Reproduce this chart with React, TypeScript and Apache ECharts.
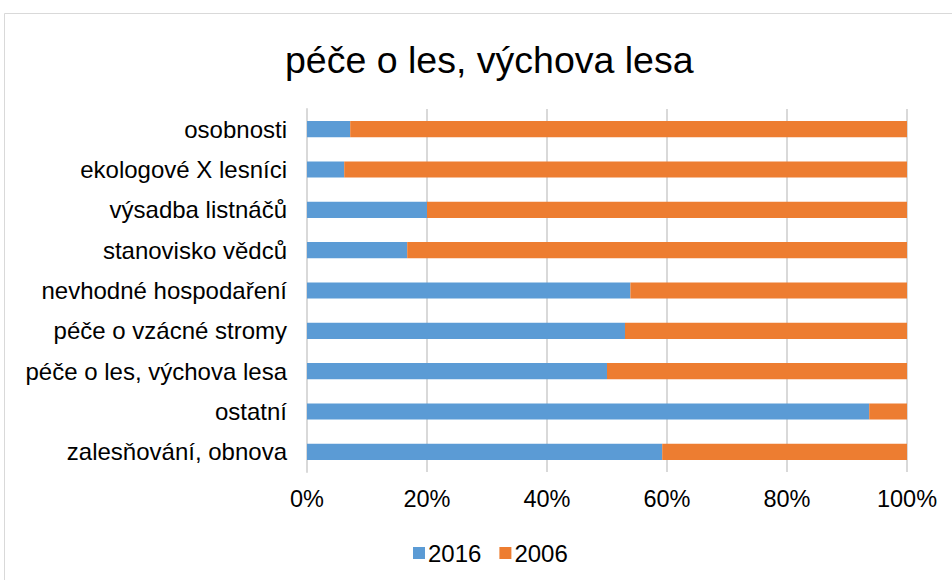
import React, { useEffect, useRef } from "react";
import * as echarts from "echarts";

const categories = [
  "zalesňování, obnova",
  "ostatní",
  "péče o les, výchova lesa",
  "péče o vzácné stromy",
  "nevhodné hospodaření",
  "stanovisko vědců",
  "výsadba listnáčů",
  "ekologové X lesníci",
  "osobnosti",
];
const values2016 = [59.2, 93.7, 50.0, 53.0, 53.9, 16.7, 20.0, 6.2, 7.2];
const values2006 = [40.8, 6.3, 50.0, 47.0, 46.1, 83.3, 80.0, 93.8, 92.8];
const seriesNames = ["2016", "2006"];
const FONT = "'Liberation Sans', Arial, sans-serif";

export default function App() {
  const ref = useRef<HTMLDivElement>(null);
  useEffect(() => {
    if (!ref.current) return;
    const chart = echarts.init(ref.current, null, { renderer: "svg" });
    chart.setOption({
      animation: false,
      backgroundColor: "#ffffff",
      textStyle: { fontFamily: FONT },
      title: {
        text: "péče o les, výchova lesa",
        left: 285,
        top: 41,
        padding: 0,
        textStyle: { fontFamily: FONT, fontSize: 37.5, fontWeight: "normal", color: "#000" },
      },
      graphic: [
        {
          type: "rect",
          shape: { x: 4.5, y: 13.5, width: 1000, height: 700 },
          style: { fill: "none", stroke: "#d9d9d9", lineWidth: 1 },
          silent: true,
        },
      ],
      legend: {
        data: seriesNames,
        left: 413,
        top: 541,
        padding: 0,
        itemWidth: 12,
        itemHeight: 12,
        itemGap: 18,
        icon: "rect",
        textStyle: { fontFamily: FONT, fontSize: 24, color: "#000", padding: [0, 0, 0, -2] },
      },
      grid: { left: 307, right: 45, top: 109, bottom: 108, containLabel: false },
      xAxis: {
        type: "value",
        min: 0,
        max: 100,
        interval: 20,
        axisLine: { show: false },
        axisTick: { show: false },
        splitLine: { show: true, lineStyle: { color: "#d9d9d9", width: 2 } },
        axisLabel: {
          formatter: "{value}%",
          fontFamily: FONT,
          fontSize: 23.5,
          color: "#000",
          margin: 15,
        },
      },
      yAxis: {
        type: "category",
        data: categories,
        axisLine: { show: true, lineStyle: { color: "#d9d9d9", width: 2 } },
        axisTick: { show: false },
        axisLabel: { fontFamily: FONT, fontSize: 24, color: "#000", margin: 20 },
      },
      series: [
        {
          name: seriesNames[0],
          type: "bar",
          stack: "total",
          data: values2016,
          barCategoryGap: "60%",
          itemStyle: { color: "#5B9BD5" },
        },
        {
          name: seriesNames[1],
          type: "bar",
          stack: "total",
          data: values2006,
          barCategoryGap: "60%",
          itemStyle: { color: "#ED7D31" },
        },
      ],
    });
    return () => chart.dispose();
  }, []);
  return (
    <div
      ref={ref}
      style={{ position: "fixed", left: 0, top: 0, width: 952, height: 580 }}
    />
  );
}
